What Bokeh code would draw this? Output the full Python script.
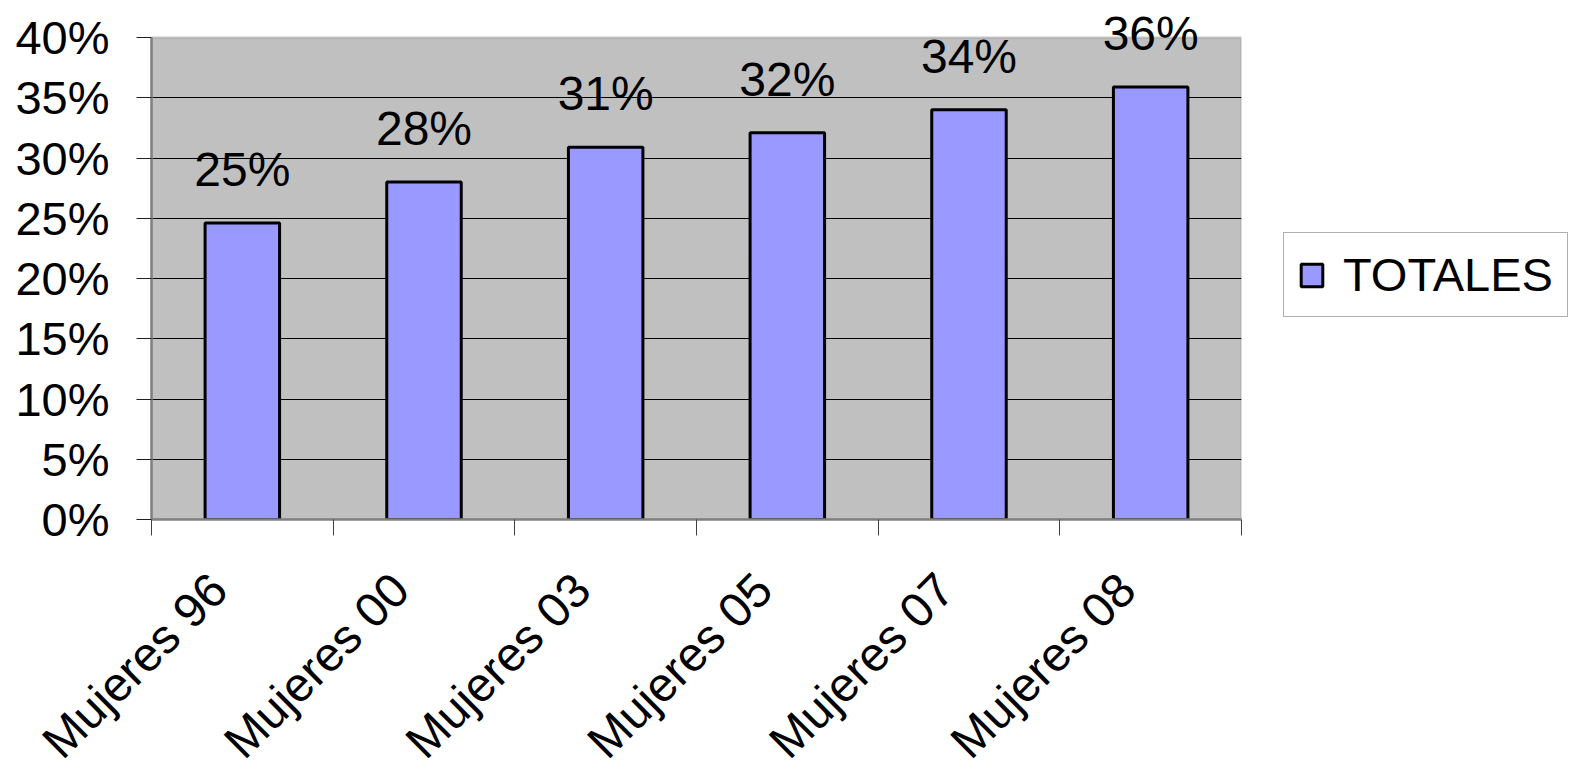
import math
from bokeh.plotting import figure
from bokeh.models import (ColumnDataSource, LabelSet, FixedTicker, NumeralTickFormatter,
                          Range1d, Legend, LegendItem, BoxAnnotation)
from bokeh.core.properties import value
from bokeh.embed import file_html
from bokeh.resources import INLINE

categories = ["Mujeres 96", "Mujeres 00", "Mujeres 03", "Mujeres 05", "Mujeres 07", "Mujeres 08"]
values = [0.246, 0.280, 0.309, 0.321, 0.340, 0.359]
value_labels = ["25%", "28%", "31%", "32%", "34%", "36%"]
series_name = "TOTALES"
y_ticks = [0.0, 0.05, 0.10, 0.15, 0.20, 0.25, 0.30, 0.35, 0.40]

FONT = "Liberation Sans"

n = len(categories)
y_max = y_ticks[-1]
plot_h = 482          # pixel height of the 0..40% area
head = 36             # extra room above 40% for the value labels
frame_h = plot_h + head
y_end = y_max * frame_h / plot_h
label_shift = -0.13   # rotated category labels end slightly left of the centre

xs = [i + 0.5 for i in range(n)]
src = ColumnDataSource(dict(x=xs, top=values, label=value_labels))

p = figure(output_backend="svg", toolbar_location=None,
           frame_width=1090, frame_height=frame_h,
           min_border_left=151, min_border_right=318, min_border_top=1, min_border_bottom=245,
           x_range=Range1d(0, n), y_range=Range1d(0, y_end))

p.background_fill_color = "white"
p.border_fill_color = "white"
p.outline_line_color = None

# grey plot area 0..40%
area = BoxAnnotation(left=0, right=n, bottom=0, top=y_max,
                     fill_color="#C0C0C0", fill_alpha=1,
                     line_color="#808080", line_width=2.5, level="image")
p.add_layout(area)

r = p.vbar(x="x", top="top", width=0.41, bottom=0, source=src,
           fill_color="#9999FF", line_color="black", line_width=3)

# grid
p.xgrid.grid_line_color = None
p.ygrid.ticker = FixedTicker(ticks=[t for t in y_ticks if t < y_max])
p.ygrid.grid_line_color = "black"
p.ygrid.grid_line_width = 1

# y axis
p.yaxis.ticker = FixedTicker(ticks=y_ticks)
p.yaxis.bounds = (0, y_max)
p.yaxis.formatter = NumeralTickFormatter(format="0%")
p.yaxis.major_label_text_font = FONT
p.yaxis.major_label_text_font_size = "47px"
p.yaxis.major_label_text_color = "black"
p.yaxis.axis_line_color = "#808080"
p.yaxis.axis_line_width = 2.5
p.yaxis.major_tick_line_color = "#202020"
p.yaxis.major_tick_line_width = 1
p.yaxis.major_tick_in = 0
p.yaxis.major_tick_out = 15
p.yaxis.minor_tick_line_color = None
p.yaxis.major_label_standoff = 27

# x axis: labels near centres, ticks at category boundaries
lab_ticks = [x + label_shift for x in xs]
p.xaxis.ticker = FixedTicker(ticks=lab_ticks, minor_ticks=list(range(n + 1)))
p.xaxis.major_label_overrides = {t: c for t, c in zip(lab_ticks, categories)}
p.xaxis.major_label_orientation = math.pi / 4
p.xaxis.major_label_text_font = FONT
p.xaxis.major_label_text_font_size = "48px"
p.xaxis.major_label_text_color = "black"
p.xaxis.major_tick_line_color = None
p.xaxis.major_tick_out = 0
p.xaxis.minor_tick_line_color = "#404040"
p.xaxis.minor_tick_line_width = 1
p.xaxis.minor_tick_in = 0
p.xaxis.minor_tick_out = 16
p.xaxis.axis_line_color = "#808080"
p.xaxis.axis_line_width = 2.5
p.xaxis.major_label_standoff = 46

labels = LabelSet(x="x", y="top", text="label", source=src, y_offset=37,
                  text_align="center", text_baseline="alphabetic",
                  text_font=value(FONT), text_font_size=value("48px"), text_color="black")
p.add_layout(labels)

legend = Legend(items=[LegendItem(label=series_name, renderers=[r])],
                location=(42, 202), orientation="vertical")
legend.label_text_font = FONT
legend.label_text_font_size = "47px"
legend.label_text_color = "black"
legend.glyph_width = 27
legend.glyph_height = 28
legend.label_standoff = 18
legend.padding = 14
legend.margin = 0
legend.border_line_color = "#606060"
legend.border_line_width = 1.5
legend.background_fill_color = "white"
legend.background_fill_alpha = 1
p.add_layout(legend, "right")

open("out.html", "w").write(file_html(p, INLINE))
